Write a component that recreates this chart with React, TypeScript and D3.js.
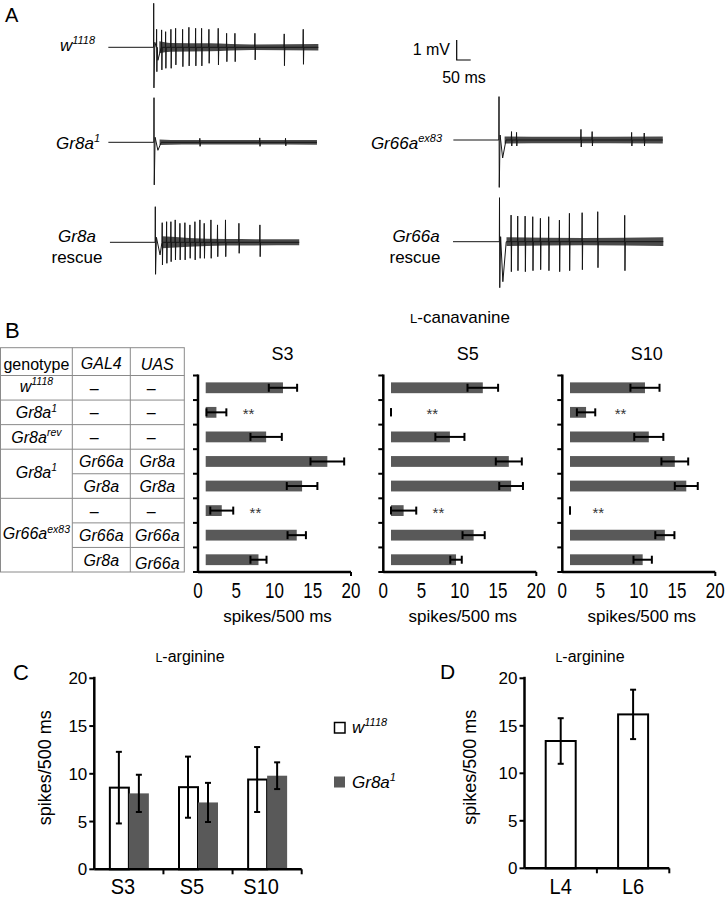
import React from 'react';
import * as d3 from 'd3';

const FONT = "'Liberation Sans', Arial, Helvetica, sans-serif";
const BAR_GRAY = '#595959';

// ---------------- Panel A: recordings ----------------
const traceStartMs = [-162, -163, -162, -163, -166];
const traceEndMs = [588, 582, 514, 585, 585];
const artifactUpMv = [2.2, 2.23, 1.78, 2.17, 2.2];
const artifactDownMv = [2.03, 2.13, 1.6, 2.37, 2.3];
const dipMs = [15, 14, 17, 13, 12];
const dipMv = [0.65, 0.4, 0.63, 0.9, 2.0];

const w1118SpikeMs = [10.7, 28.6, 42.9, 61.8, 78.6, 103.6, 126, 150, 171.4, 197.5, 230.7, 260.7, 290.4, 361.8, 466.4, 534.3];
const w1118SpikeUp = [0.9, 0.87, 0.78, 0.9, 0.95, 0.9, 1.0, 0.95, 0.95, 0.9, 0.95, 0.7, 0.7, 0.7, 0.67, 0.9];
const w1118SpikeDown = [1.22, 1.13, 1.05, 1.05, 0.88, 0.97, 0.93, 0.93, 0.93, 0.8, 0.88, 0.72, 0.72, 0.63, 0.92, 0.85];

const gr8a1SpikeMs = [164, 378, 470];
const gr8a1SpikeUp = [0.2, 0.22, 0.2];
const gr8a1SpikeDown = [0.2, 0.2, 0.18];

const gr8aRescueSpikeMs = [25, 40.7, 56, 71.4, 88.2, 106, 123.9, 141.8, 159.6, 175, 199, 222.5, 251, 298.9, 373.9];
const gr8aRescueSpikeUp = [0.98, 1.03, 1.03, 1.12, 0.95, 0.98, 0.87, 1.03, 1.12, 0.95, 1.12, 0.87, 1.12, 0.95, 0.87];
const gr8aRescueSpikeDown = [1.13, 1.05, 0.97, 0.88, 0.88, 0.88, 0.8, 0.88, 0.8, 0.8, 0.8, 0.72, 0.72, 0.55, 0.72];

const gr66aEx83SpikeMs = [45, 63, 293, 333, 474, 519];
const gr66aEx83SpikeUp = [0.42, 0.38, 0.53, 0.42, 0.38, 0.35];
const gr66aEx83SpikeDown = [0.3, 0.3, 0.35, 0.3, 0.3, 0.3];

const gr66aRescueSpikeMs = [41.7, 65.4, 91.8, 119, 146.4, 176, 214.3, 250, 295.4, 351.1, 447.5];
const gr66aRescueSpikeUp = [1.33, 1.28, 1.28, 1.25, 1.17, 1.25, 1.08, 1.42, 1.45, 1.5, 1.32];
const gr66aRescueSpikeDown = [1.5, 1.45, 1.5, 1.45, 1.4, 1.45, 1.5, 1.45, 1.4, 1.3, 1.45];

const w1118Noise = [[20, 0.3], [60, 0.22], [200, 0.2], [350, 0.14], [588, 0.16]];
const gr8a1Noise = [[20, 0.14], [100, 0.11], [582, 0.12]];
const gr8aRescueNoise = [[25, 0.3], [120, 0.22], [250, 0.16], [514, 0.15]];
const gr66aEx83Noise = [[20, 0.18], [200, 0.16], [585, 0.18]];
const gr66aRescueNoise = [[25, 0.22], [300, 0.18], [585, 0.22]];

const spikeMs = [w1118SpikeMs, gr8a1SpikeMs, gr8aRescueSpikeMs, gr66aEx83SpikeMs, gr66aRescueSpikeMs];
const spikeUp = [w1118SpikeUp, gr8a1SpikeUp, gr8aRescueSpikeUp, gr66aEx83SpikeUp, gr66aRescueSpikeUp];
const spikeDown = [w1118SpikeDown, gr8a1SpikeDown, gr8aRescueSpikeDown, gr66aEx83SpikeDown, gr66aRescueSpikeDown];
const noiseProfiles = [w1118Noise, gr8a1Noise, gr8aRescueNoise, gr66aEx83Noise, gr66aRescueNoise];

// layout of the traces (stimulus x, baseline y)
const traceStimX = [153.7, 154, 155.3, 499, 499.5];
const traceBaseY = [47.3, 142.3, 242.3, 140, 241.7];
const PX_PER_MS = 14 / 50;
const PX_PER_MV = 20;

// ---------------- Panel B data ----------------
const gal4Col = ['–', '–', '–', 'Gr66a', 'Gr8a', '–', 'Gr66a', 'Gr8a'];
const uasCol = ['–', '–', '–', 'Gr8a', 'Gr8a', '–', 'Gr66a', 'Gr66a'];
const canavanineSensilla = ['S3', 'S5', 'S10'];
const s3Mean = [10.1, 1.4, 7.9, 15.9, 12.6, 2.1, 11.9, 6.9];
const s3Sem = [1.85, 1.3, 2.05, 2.2, 2.0, 1.5, 1.2, 1.05];
const s5Mean = [12.0, 0, 7.7, 15.4, 15.7, 1.65, 10.8, 8.5];
const s5Sem = [2.0, 0, 1.9, 1.7, 1.55, 1.65, 1.45, 0.75];
const s10Mean = [9.8, 2.1, 10.3, 13.7, 15.2, 0, 12.4, 9.5];
const s10Sem = [1.9, 1.2, 1.9, 1.75, 1.5, 0, 1.25, 1.2];
const sigRows = [1, 5];
const s3SigX = [5.6, 6.5];
const s5SigX = [5.4, 6.2];
const s10SigX = [6.6, 3.7];
const bTicks = [0, 5, 10, 15, 20];

// ---------------- Panel C data ----------------
const argSensilla = ['S3', 'S5', 'S10'];
const argW1118Mean = [8.55, 8.6, 9.4];
const argW1118Sem = [3.75, 3.2, 3.4];
const argGr8aMean = [7.95, 7.0, 9.8];
const argGr8aSem = [1.95, 2.05, 1.4];
const cdTicks = [0, 5, 10, 15, 20];

// ---------------- Panel D data ----------------
const larvalSensilla = ['L4', 'L6'];
const larvalMean = [13.4, 16.2];
const larvalSem = [2.4, 2.6];

// ---------------------------------------------------------------
function Sup({ base, sup, supSize = 11, dy = -7 }: any) {
  return (
    <>
      {base}
      <tspan dy={dy} fontSize={supSize}>{sup}</tspan>
    </>
  );
}

function traceElements(i: number) {
  const x = d3.scaleLinear().domain([0, 50]).range([traceStimX[i], traceStimX[i] + 50 * PX_PER_MS]);
  const y = d3.scaleLinear().domain([0, 1]).range([traceBaseY[i], traceBaseY[i] - PX_PER_MV]);
  const pts: [number, number][] = [
    [traceStartMs[i], 0],
    [-0.6, 0],
    [0, artifactUpMv[i]],
    [0.9, -artifactDownMv[i]],
    [4, 0.25],
    [dipMs[i], -dipMv[i]],
    [dipMs[i] + 12, 0],
  ];
  spikeMs[i].forEach((t, k) => {
    pts.push([t - 1.2, 0], [t - 0.3, spikeUp[i][k]], [t + 0.6, -spikeDown[i][k]], [t + 1.8, 0]);
  });
  pts.push([traceEndMs[i], 0]);
  pts.sort((a, b) => a[0] - b[0]);
  const line = d3.line<[number, number]>().x((d) => x(d[0])).y((d) => y(d[1]));
  const noise = noiseProfiles[i] as [number, number][];
  const area = d3
    .area<[number, number]>()
    .x((d) => x(d[0]))
    .y0((d) => y(-d[1]))
    .y1((d) => y(d[1]))
    .curve(d3.curveMonotoneX);
  return (
    <g key={'tr' + i}>
      <path d={area(noise) || ''} fill="#2a2a2a" opacity={0.85} />
      <path d={line(pts) || ''} fill="none" stroke="#151515" strokeWidth={1} strokeLinejoin="round" />
    </g>
  );
}

function HBarPanel({ axisX, means, sems, sigX, title, yBand, rowTop, rowBottom }: any) {
  const unitPx = 7.65;
  const inset = 7.7;
  const x = d3.scaleLinear().domain([0, 20]).range([axisX, axisX + 20 * unitPx]);
  const xb = (v: number) => x(v) + inset;
  const center = (axisX + x(20)) / 2;
  const step = yBand.step();
  const boundaries = d3.range(9).map((k) => rowTop + k * step);
  return (
    <g>
      <text x={center + 8} y={360} textAnchor="middle" fontSize={18}>{title}</text>
      {means.map((m: number, r: number) => {
        const yc = (yBand(r) as number) + yBand.bandwidth() / 2;
        const lo = xb(Math.max(0, m - sems[r]));
        const hi = xb(m + sems[r]);
        return (
          <g key={r}>
            <rect x={xb(0)} y={yBand(r)} width={xb(m) - xb(0)} height={yBand.bandwidth()} fill={BAR_GRAY} />
            <line x1={lo} x2={hi} y1={yc} y2={yc} stroke="#000" strokeWidth={2} />
            <line x1={lo} x2={lo} y1={yc - 4} y2={yc + 4} stroke="#000" strokeWidth={2} />
            <line x1={hi} x2={hi} y1={yc - 4} y2={yc + 4} stroke="#000" strokeWidth={2} />
          </g>
        );
      })}
      {sigRows.map((r: number, k: number) => {
        const yc = (yBand(r) as number) + yBand.bandwidth() / 2;
        return (
          <text key={'s' + k} x={xb(sigX[k])} y={yc + 7} textAnchor="middle" fontSize={15} fill="#333">**</text>
        );
      })}
      <line x1={axisX} x2={axisX} y1={rowTop - 1} y2={rowBottom + 1} stroke="#000" strokeWidth={2.5} />
      {boundaries.map((b, k) => (
        <line key={'t' + k} x1={axisX - 5} x2={axisX} y1={b} y2={b} stroke="#000" strokeWidth={2} />
      ))}
      <line x1={axisX} x2={x(20)} y1={rowBottom} y2={rowBottom} stroke="#000" strokeWidth={2.5} />
      <line x1={x(20)} x2={x(20)} y1={rowBottom} y2={rowBottom + 4} stroke="#000" strokeWidth={2} />
      {bTicks.map((t) => (
        <text key={'l' + t} transform={`translate(${x(t)},598) scale(1,1.35)`} textAnchor="middle" fontSize={17}>{t}</text>
      ))}
      <text x={center + 3} y={622} textAnchor="middle" fontSize={17}>spikes/500 ms</text>
    </g>
  );
}

export default function App() {
  // ---- Panel B geometry ----
  const rowTop = 375.5;
  const rowBottom = 572;
  const yBand = d3.scaleBand<number>().domain(d3.range(8)).range([rowTop, rowBottom]).paddingInner(0.56).paddingOuter(0.28);
  const step = yBand.step();
  const rowEdge = (k: number) => rowTop + k * step;
  const rowMid = (k: number) => rowTop + (k + 0.5) * step;
  const colX = [0.5, 72.3, 130.3, 184.3];
  const tableTop = 347.7;
  const lineColor = '#8a8a8a';

  // ---- Panel C geometry ----
  const yC = d3.scaleLinear().domain([0, 20]).range([869.3, 678.3]);
  const cAxisX = 94.3;
  const xC = d3.scaleBand<string>().domain(argSensilla).range([cAxisX, 301.7]);
  const inner = d3.scaleBand<string>().domain(['w1118', 'Gr8a1']).range([-20, 20]);

  // ---- Panel D geometry ----
  const yD = d3.scaleLinear().domain([0, 20]).range([868.3, 678.3]);
  const dAxisX = 524.5;
  const xD = d3.scaleBand<string>().domain(larvalSensilla).range([dAxisX, 669.3]);
  const dBarW = 30;

  const cBars = [
    { key: 'w1118', means: argW1118Mean, sems: argW1118Sem, fill: '#fff' },
    { key: 'Gr8a1', means: argGr8aMean, sems: argGr8aSem, fill: BAR_GRAY },
  ];

  return (
    <svg
      width={725}
      height={900}
      style={{ position: 'absolute', left: 0, top: 0, background: '#fff' }}
      fontFamily={FONT}
    >
      <rect x={0} y={0} width={725} height={900} fill="#fff" />
      {/* ---------------- Panel A ---------------- */}
      <text x={5} y={22} fontSize={20}>A</text>
      {[0, 1, 2, 3, 4].map((i) => traceElements(i))}
      <text x={95} y={51} textAnchor="end" fontSize={17} fontStyle="italic">
        <Sup base="w" sup="1118" />
      </text>
      <text x={100} y={148.5} textAnchor="end" fontSize={17} fontStyle="italic">
        <Sup base="Gr8a" sup="1" />
      </text>
      <text x={77} y={241.5} textAnchor="middle" fontSize={17} fontStyle="italic">Gr8a</text>
      <text x={77} y={263} textAnchor="middle" fontSize={17}>rescue</text>
      <text x={442} y={148.5} textAnchor="end" fontSize={17} fontStyle="italic">
        <Sup base="Gr66a" sup="ex83" />
      </text>
      <text x={416} y={241.5} textAnchor="middle" fontSize={17} fontStyle="italic">Gr66a</text>
      <text x={415} y={263} textAnchor="middle" fontSize={17}>rescue</text>
      {/* scale bar */}
      {(() => {
        const sx = d3.scaleLinear().domain([0, 50]).range([456.7, 456.7 + 50 * PX_PER_MS]);
        const sy = d3.scaleLinear().domain([0, 1]).range([60, 60 - PX_PER_MV]);
        return (
          <g>
            <path d={`M${sx(0)},${sy(1)}V${sy(0)}H${sx(50)}`} fill="none" stroke="#000" strokeWidth={1.2} />
            <text x={450} y={55} textAnchor="end" fontSize={16}>1 mV</text>
            <text x={464} y={83} textAnchor="middle" fontSize={16}>50 ms</text>
          </g>
        );
      })()}

      {/* ---------------- Panel B ---------------- */}
      <text x={5} y={338} fontSize={22}>B</text>
      <text x={460} y={323} textAnchor="middle" fontSize={17}>
        <tspan fontSize={13}>L</tspan>-canavanine
      </text>
      {/* table grid */}
      <g stroke={lineColor} strokeWidth={1} fill="none">
        <rect x={colX[0]} y={tableTop} width={colX[3] - colX[0]} height={rowBottom - tableTop} />
        <line x1={colX[1]} x2={colX[1]} y1={tableTop} y2={rowBottom} />
        <line x1={colX[2]} x2={colX[2]} y1={tableTop} y2={rowBottom} />
        {d3.range(0, 8).map((k) => {
          const full = [0, 1, 2, 3, 5].includes(k);
          return (
            <line key={'h' + k} x1={full ? colX[0] : colX[1]} x2={colX[3]} y1={rowEdge(k)} y2={rowEdge(k)} />
          );
        })}
      </g>
      <g fontSize={16}>
        <text x={(colX[0] + colX[1]) / 2} y={370} textAnchor="middle">genotype</text>
        <text x={(colX[1] + colX[2]) / 2} y={369} textAnchor="middle" fontStyle="italic">GAL4</text>
        <text x={(colX[2] + colX[3]) / 2} y={370} textAnchor="middle" fontStyle="italic">UAS</text>
        <text x={(colX[0] + colX[1]) / 2} y={rowMid(0) + 4} textAnchor="middle" fontStyle="italic">
          <Sup base="w" sup="1118" supSize={10.5} dy={-6.5} />
        </text>
        <text x={(colX[0] + colX[1]) / 2} y={rowMid(1) + 6} textAnchor="middle" fontStyle="italic">
          <Sup base="Gr8a" sup="1" supSize={10.5} dy={-6.5} />
        </text>
        <text x={(colX[0] + colX[1]) / 2} y={rowMid(2) + 6} textAnchor="middle" fontStyle="italic">
          <Sup base="Gr8a" sup="rev" supSize={10.5} dy={-6.5} />
        </text>
        <text x={(colX[0] + colX[1]) / 2} y={rowEdge(4) + 4} textAnchor="middle" fontStyle="italic">
          <Sup base="Gr8a" sup="1" supSize={10.5} dy={-6.5} />
        </text>
        <text x={(colX[0] + colX[1]) / 2} y={rowMid(6) + 4} textAnchor="middle" fontStyle="italic">
          <Sup base="Gr66a" sup="ex83" supSize={10.5} dy={-6.5} />
        </text>
        {gal4Col.map((g, k) => (
          <text key={'g' + k} x={(colX[1] + colX[2]) / 2 + (g === '–' ? -7 : 0)} y={rowMid(k) + 6} textAnchor="middle" fontStyle={g === '–' ? 'normal' : 'italic'}>{g}</text>
        ))}
        {uasCol.map((g, k) => (
          <text key={'u' + k} x={(colX[2] + colX[3]) / 2 + (g === '–' ? -6 : 0)} y={rowMid(k) + 6 + (k === 7 ? 3 : 0)} textAnchor="middle" fontStyle={g === '–' ? 'normal' : 'italic'}>{g}</text>
        ))}
      </g>
      <HBarPanel axisX={198} means={s3Mean} sems={s3Sem} sigX={s3SigX} title={canavanineSensilla[0]} yBand={yBand} rowTop={rowTop} rowBottom={rowBottom} />
      <HBarPanel axisX={383.3} means={s5Mean} sems={s5Sem} sigX={s5SigX} title={canavanineSensilla[1]} yBand={yBand} rowTop={rowTop} rowBottom={rowBottom} />
      <HBarPanel axisX={562.3} means={s10Mean} sems={s10Sem} sigX={s10SigX} title={canavanineSensilla[2]} yBand={yBand} rowTop={rowTop} rowBottom={rowBottom} />

      {/* ---------------- Panel C ---------------- */}
      <text x={13} y={680} fontSize={22}>C</text>
      <text x={190} y={662} textAnchor="middle" fontSize={16}>
        <tspan fontSize={12.5}>L</tspan>-arginine
      </text>
      {cBars.map((s) =>
        argSensilla.map((g, k) => {
          const cx = (xC(g) as number) + xC.bandwidth() / 2 + (inner(s.key) as number);
          const w = inner.bandwidth();
          const m = s.means[k];
          const e = s.sems[k];
          const mid = cx + w / 2;
          return (
            <g key={s.key + g}>
              <rect
                x={s.fill === '#fff' ? cx + 1 : cx}
                y={yC(m)}
                width={s.fill === '#fff' ? w - 1 : w}
                height={yC(0) - yC(m)}
                fill={s.fill}
                stroke={s.fill === '#fff' ? '#000' : 'none'}
                strokeWidth={2}
              />
              <line x1={mid} x2={mid} y1={yC(m + e)} y2={yC(m - e)} stroke="#000" strokeWidth={2} />
              <line x1={mid - 3} x2={mid + 3} y1={yC(m + e)} y2={yC(m + e)} stroke="#000" strokeWidth={2} />
              <line x1={mid - 3} x2={mid + 3} y1={yC(m - e)} y2={yC(m - e)} stroke="#000" strokeWidth={2} />
            </g>
          );
        })
      )}
      <line x1={cAxisX} x2={cAxisX} y1={yC(0)} y2={yC(20) - 1.5} stroke="#000" strokeWidth={2.5} />
      <line x1={cAxisX} x2={301.7} y1={yC(0)} y2={yC(0)} stroke="#000" strokeWidth={2.5} />
      {cdTicks.map((t) => (
        <g key={'cy' + t}>
          <line x1={cAxisX - 5} x2={cAxisX} y1={yC(t)} y2={yC(t)} stroke="#000" strokeWidth={2} />
          <text x={cAxisX - 7} y={yC(t)} dy="0.36em" textAnchor="end" fontSize={17}>{t}</text>
        </g>
      ))}
      {argSensilla.map((g) => (
        <g key={'cx' + g}>
          <line x1={(xC(g) as number) + xC.bandwidth()} x2={(xC(g) as number) + xC.bandwidth()} y1={yC(0)} y2={yC(0) + 5} stroke="#000" strokeWidth={2} />
          <text transform={`translate(${(xC(g) as number) + xC.bandwidth() / 2 - 6},894) scale(1,1.08)`} textAnchor="middle" fontSize={20}>{g}</text>
        </g>
      ))}
      <text transform={`translate(51,${(yC(0) + yC(20)) / 2 - 6}) rotate(-90)`} textAnchor="middle" fontSize={18}>spikes/500 ms</text>
      {/* legend */}
      <rect x={334.5} y={722.5} width={10.5} height={10.5} fill="#fff" stroke="#000" strokeWidth={1.5} />
      <text x={352} y={733} fontSize={17} fontStyle="italic">
        <Sup base="w" sup="1118" supSize={11} dy={-7} />
      </text>
      <rect x={334} y={776.5} width={11} height={11} fill={BAR_GRAY} />
      <text x={352} y={788} fontSize={17} fontStyle="italic">
        <Sup base="Gr8a" sup="1" supSize={11} dy={-7} />
      </text>

      {/* ---------------- Panel D ---------------- */}
      <text x={440} y={679} fontSize={21}>D</text>
      <text x={590} y={662} textAnchor="middle" fontSize={16}>
        <tspan fontSize={12.5}>L</tspan>-arginine
      </text>
      {larvalSensilla.map((g, k) => {
        const mid = (xD(g) as number) + xD.bandwidth() / 2;
        const m = larvalMean[k];
        const e = larvalSem[k];
        return (
          <g key={'d' + g}>
            <rect x={mid - dBarW / 2} y={yD(m)} width={dBarW} height={yD(0) - yD(m)} fill="#fff" stroke="#000" strokeWidth={2} />
            <line x1={mid} x2={mid} y1={yD(m + e)} y2={yD(m - e)} stroke="#000" strokeWidth={2} />
            <line x1={mid - 3} x2={mid + 3} y1={yD(m + e)} y2={yD(m + e)} stroke="#000" strokeWidth={2} />
            <line x1={mid - 3} x2={mid + 3} y1={yD(m - e)} y2={yD(m - e)} stroke="#000" strokeWidth={2} />
            <line x1={(xD(g) as number) + xD.bandwidth()} x2={(xD(g) as number) + xD.bandwidth()} y1={yD(0)} y2={yD(0) + 5} stroke="#000" strokeWidth={2} />
            <text transform={`translate(${mid},894) scale(1,1.08)`} textAnchor="middle" fontSize={20}>{g}</text>
          </g>
        );
      })}
      <line x1={dAxisX} x2={dAxisX} y1={yD(0)} y2={yD(20) - 1.5} stroke="#000" strokeWidth={2.5} />
      <line x1={dAxisX} x2={669.3} y1={yD(0)} y2={yD(0)} stroke="#000" strokeWidth={2.5} />
      {cdTicks.map((t) => (
        <g key={'dy' + t}>
          <line x1={dAxisX - 5} x2={dAxisX} y1={yD(t)} y2={yD(t)} stroke="#000" strokeWidth={2} />
          <text x={dAxisX - 7} y={yD(t)} dy="0.36em" textAnchor="end" fontSize={17}>{t}</text>
        </g>
      ))}
      <text transform={`translate(476,${(yD(0) + yD(20)) / 2 - 6}) rotate(-90)`} textAnchor="middle" fontSize={18}>spikes/500 ms</text>
    </svg>
  );
}
